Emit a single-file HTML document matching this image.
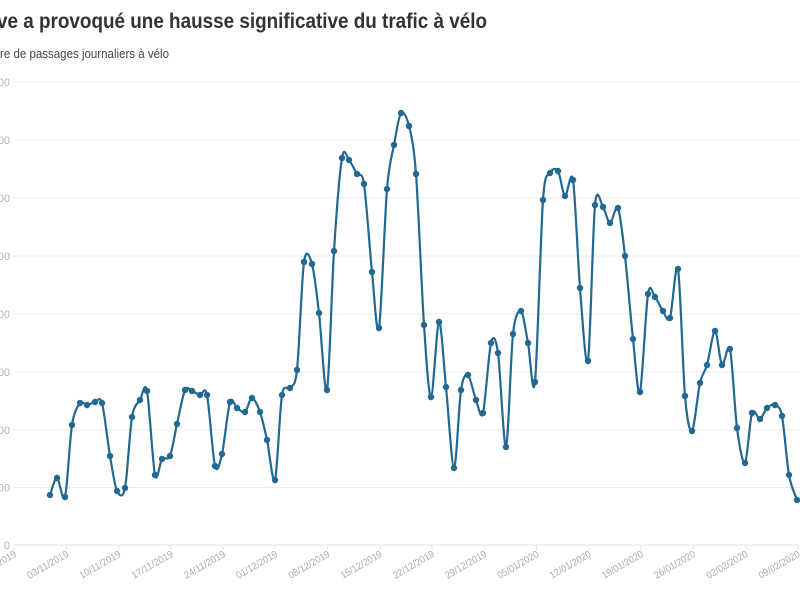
<!DOCTYPE html>
<html><head><meta charset="utf-8"><style>
html,body{margin:0;padding:0;background:#fff;width:800px;height:600px;overflow:hidden}
svg{display:block;font-family:"Liberation Sans",sans-serif}
</style></head><body>
<svg id="s" width="800" height="600" xmlns="http://www.w3.org/2000/svg">
<text x="-3" y="28" font-size="21" font-weight="bold" fill="#333" textLength="490" lengthAdjust="spacingAndGlyphs">ve a provoqué une hausse significative du trafic à vélo</text>
<text x="0" y="58" font-size="13" fill="#444" textLength="169" lengthAdjust="spacingAndGlyphs">re de passages journaliers à vélo</text>
<g id="grid"></g>
<g id="xt"></g>
<path id="ln" fill="none" stroke="#226891" stroke-width="2.2"/>
<g id="pts" fill="#226891"></g>
</svg>
<script>
var NS="http://www.w3.org/2000/svg";
function el(t,a,p,txt){var e=document.createElementNS(NS,t);for(var k in a)e.setAttribute(k,a[k]);if(txt)e.textContent=txt;p.appendChild(e);return e;}
var g=document.getElementById('grid');
var ys=[82,140,198,256,314,372,430,487.5,545];
ys.forEach(function(y,i){
 el('line',{x1:14,x2:800,y1:y,y2:y,stroke:i==8?'#e6e6e6':'#eeeeee','stroke-width':1},g);
 el('text',{x:10,y:y+4,'font-size':11,fill:'#b0b0b0','text-anchor':'end'},g,i==8?'0':'00');
});
var xt=document.getElementById('xt');
var labs=["27/10/2019","03/11/2019","10/11/2019","17/11/2019","24/11/2019","01/12/2019","08/12/2019","15/12/2019","22/12/2019","29/12/2019","05/01/2020","12/01/2020","19/01/2020","26/01/2020","02/02/2020","09/02/2020"];
labs.forEach(function(l,i){
 var x=14.1+i*52.25;
 el('line',{x1:x,x2:x,y1:545,y2:550,stroke:'#e6e6e6'},xt);
 el('text',{x:x+3,y:556,'font-size':10,fill:'#aaa','text-anchor':'end',textLength:46,lengthAdjust:'spacingAndGlyphs',transform:'rotate(-30 '+(x+3)+' 556)'},xt,l);
});
var d=[[50,495],[57,478],[65,497],[72,425],[80,403],[87,405],[95,402],[102,403],[110,456],[117,491],[125,488],[132,417],[140,400],[147,391],[155,475],[162,459],[170,456],[177,424],[185,390],[192,391],[200,395],[207,395],[215,466],[222,454],[230,402],[237,408],[245,412],[252,398],[260,412],[267,440],[275,480],[282,395],[290,388],[297,370],[304,262],[312,264],[319,313],[327,390],[334,251],[342,158],[349,160],[357,174],[364,184],[372,272],[379,328],[387,189],[394,145],[401,113],[409,126],[416,174],[424,325],[431,397],[439,322],[446,387],[454,468],[461,390],[468,375],[476,400],[483,413],[491,343],[498,353],[506,447],[513,334],[521,311],[528,343],[535,382],[543,200],[550,173],[558,171],[565,196],[573,180],[580,288],[588,361],[595,205],[603,207],[610,223],[618,208],[625,256],[633,339],[640,392],[648,294],[655,297],[663,311],[670,318],[678,269],[685,396],[692,431],[700,383],[707,365],[715,331],[722,365],[730,349],[737,428],[745,463],[752,413],[760,419],[767,408],[775,405],[782,416],[789,475],[797,500]];
var p="M"+d[0][0]+","+d[0][1],t=0.15;
for(var i=0;i<d.length-1;i++){
 var a=d[Math.max(i-1,0)],b=d[i],c=d[i+1],e=d[Math.min(i+2,d.length-1)];
 var c1x=b[0]+(c[0]-a[0])*t,c1y=b[1]+(c[1]-a[1])*t,c2x=c[0]-(e[0]-b[0])*t,c2y=c[1]-(e[1]-b[1])*t;
 p+=" C"+c1x+","+c1y+" "+c2x+","+c2y+" "+c[0]+","+c[1];
}
document.getElementById('ln').setAttribute('d',p);
var pts=document.getElementById('pts');
d.forEach(function(q){el('circle',{cx:q[0],cy:q[1],r:3.2},pts);});
</script>
</body></html>
